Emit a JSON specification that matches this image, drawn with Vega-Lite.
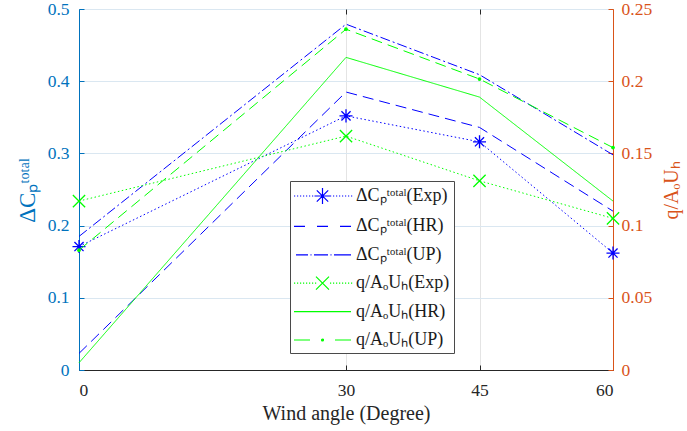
{
  "$schema": "https://vega.github.io/schema/vega-lite/v6.json",
  "width": 534,
  "height": 361,
  "autosize": {"type": "none"},
  "padding": {"left": 79, "top": 9, "right": 74, "bottom": 61},
  "background": "white",
  "config": {
    "font": "Liberation Serif",
    "view": {"stroke": "#262626", "strokeWidth": 1},
    "axis": {"labelFont": "Liberation Serif", "titleFont": "Liberation Serif", "titleFontWeight": "normal", "labelFontSize": 17.5, "tickSize": -5, "tickWidth": 1, "domainWidth": 1, "gridWidth": 1}
  },
  "data": {
    "values": [
      {"angle": 0, "value": 0.171, "quantity": "dcp", "series": "ΔCₚᵗᵒᵗᵃˡ(Exp)"},
      {"angle": 30, "value": 0.352, "quantity": "dcp", "series": "ΔCₚᵗᵒᵗᵃˡ(Exp)"},
      {"angle": 45, "value": 0.316, "quantity": "dcp", "series": "ΔCₚᵗᵒᵗᵃˡ(Exp)"},
      {"angle": 60, "value": 0.162, "quantity": "dcp", "series": "ΔCₚᵗᵒᵗᵃˡ(Exp)"},
      {"angle": 0, "value": 0.023, "quantity": "dcp", "series": "ΔCₚᵗᵒᵗᵃˡ(HR)"},
      {"angle": 30, "value": 0.385, "quantity": "dcp", "series": "ΔCₚᵗᵒᵗᵃˡ(HR)"},
      {"angle": 45, "value": 0.336, "quantity": "dcp", "series": "ΔCₚᵗᵒᵗᵃˡ(HR)"},
      {"angle": 60, "value": 0.22, "quantity": "dcp", "series": "ΔCₚᵗᵒᵗᵃˡ(HR)"},
      {"angle": 0, "value": 0.185, "quantity": "dcp", "series": "ΔCₚᵗᵒᵗᵃˡ(UP)"},
      {"angle": 30, "value": 0.479, "quantity": "dcp", "series": "ΔCₚᵗᵒᵗᵃˡ(UP)"},
      {"angle": 45, "value": 0.409, "quantity": "dcp", "series": "ΔCₚᵗᵒᵗᵃˡ(UP)"},
      {"angle": 60, "value": 0.298, "quantity": "dcp", "series": "ΔCₚᵗᵒᵗᵃˡ(UP)"},
      {"angle": 0, "value": 0.117, "quantity": "q", "series": "q/AₒUₕ(Exp)"},
      {"angle": 30, "value": 0.162, "quantity": "q", "series": "q/AₒUₕ(Exp)"},
      {"angle": 45, "value": 0.131, "quantity": "q", "series": "q/AₒUₕ(Exp)"},
      {"angle": 60, "value": 0.105, "quantity": "q", "series": "q/AₒUₕ(Exp)"},
      {"angle": 0, "value": 0.005, "quantity": "q", "series": "q/AₒUₕ(HR)"},
      {"angle": 30, "value": 0.2165, "quantity": "q", "series": "q/AₒUₕ(HR)"},
      {"angle": 45, "value": 0.189, "quantity": "q", "series": "q/AₒUₕ(HR)"},
      {"angle": 60, "value": 0.117, "quantity": "q", "series": "q/AₒUₕ(HR)"},
      {"angle": 0, "value": 0.083, "quantity": "q", "series": "q/AₒUₕ(UP)"},
      {"angle": 30, "value": 0.236, "quantity": "q", "series": "q/AₒUₕ(UP)"},
      {"angle": 45, "value": 0.2015, "quantity": "q", "series": "q/AₒUₕ(UP)"},
      {"angle": 60, "value": 0.154, "quantity": "q", "series": "q/AₒUₕ(UP)"}
    ]
  },
  "layer": [
    {
      "transform": [{"filter": "datum.quantity === 'dcp'"}],
      "encoding": {
        "x": {
          "field": "angle", "type": "quantitative",
          "scale": {"domain": [0, 60], "nice": false, "zero": false},
          "axis": {
            "orient": "bottom", "values": [0, 30, 45, 60], "title": "Wind angle (Degree)",
            "titleFontSize": 20, "titleColor": "#262626", "titleY": 33, "titleBaseline": "top",
            "labelColor": "#262626", "labelPadding": 16, "domainColor": "#262626", "tickColor": "#262626",
            "grid": true, "gridColor": "#e4e4e4"
          }
        },
        "y": {
          "field": "value", "type": "quantitative",
          "scale": {"domain": [0, 0.5], "nice": false},
          "axis": {
            "orient": "left", "values": [0, 0.1, 0.2, 0.3, 0.4, 0.5], "format": ".1~f",
            "title": "ΔCₚᵗᵒᵗᵃˡ", "titleFontSize": 23, "titleColor": "#0072BD",
            "titleX": -40, "titleY": 181, "titleAngle": -90, "titleBaseline": "bottom",
            "labelColor": "#0072BD", "labelPadding": 15, "domainColor": "#0072BD", "tickColor": "#0072BD",
            "grid": true, "gridColor": "#dae7f1"
          }
        }
      },
      "layer": [
        {
          "mark": {"type": "line", "strokeWidth": 1},
          "encoding": {
            "stroke": {
              "field": "series", "type": "nominal", "legend": null,
              "scale": {
                "domain": ["q/AₒUₕ(UP)", "q/AₒUₕ(HR)", "q/AₒUₕ(Exp)", "ΔCₚᵗᵒᵗᵃˡ(UP)", "ΔCₚᵗᵒᵗᵃˡ(HR)", "ΔCₚᵗᵒᵗᵃˡ(Exp)"],
                "range": ["#00FF00", "#00FF00", "#00FF00", "#0000FF", "#0000FF", "#0000FF"]
              }
            },
            "strokeDash": {
              "field": "series", "type": "nominal", "legend": null,
              "scale": {
                "domain": ["q/AₒUₕ(UP)", "q/AₒUₕ(HR)", "q/AₒUₕ(Exp)", "ΔCₚᵗᵒᵗᵃˡ(UP)", "ΔCₚᵗᵒᵗᵃˡ(HR)", "ΔCₚᵗᵒᵗᵃˡ(Exp)"],
                "range": [[11, 6], [1, 0], [1.5, 2.5], [10, 3, 2, 3], [11, 6], [1.5, 2.5]]
              }
            }
          }
        },
        {
          "transform": [{"filter": "datum.series === 'ΔCₚᵗᵒᵗᵃˡ(Exp)'"}],
          "mark": {"type": "point", "shape": "M0,-1V1M-1,0H1M-0.7,-0.7L0.7,0.7M-0.7,0.7L0.7,-0.7", "size": 170, "filled": false, "stroke": "#0000FF", "strokeWidth": 1.3, "opacity": 1}
        },
        {
          "mark": {"type": "point", "filled": false, "opacity": 0},
          "encoding": {
            "color": {
              "field": "series", "type": "nominal",
              "scale": {
                "domain": ["ΔCₚᵗᵒᵗᵃˡ(Exp)", "ΔCₚᵗᵒᵗᵃˡ(HR)", "ΔCₚᵗᵒᵗᵃˡ(UP)", "q/AₒUₕ(Exp)", "q/AₒUₕ(HR)", "q/AₒUₕ(UP)"],
                "range": ["#0000FF", "#0000FF", "#0000FF", "#00FF00", "#00FF00", "#00FF00"]
              },
              "legend": {
                "orient": "none", "legendX": 211, "legendY": 172, "title": null,
                "fillColor": "white", "strokeColor": "#4a4a4a", "padding": 4,
                "labelFont": "Liberation Serif", "labelFontSize": 18, "labelColor": "#1a1a1a", "labelLimit": 200,
                "symbolSize": 400, "symbolStrokeWidth": 1.2, "symbolOpacity": 1,
                "rowPadding": 8.4, "labelOffset": 40
              }
            },
            "shape": {
              "field": "series", "type": "nominal",
              "scale": {
                "domain": ["ΔCₚᵗᵒᵗᵃˡ(Exp)", "ΔCₚᵗᵒᵗᵃˡ(HR)", "ΔCₚᵗᵒᵗᵃˡ(UP)", "q/AₒUₕ(Exp)", "q/AₒUₕ(HR)", "q/AₒUₕ(UP)"],
                "range": [
                  "M-1.1,0h0.12M-0.8,0h0.12M-0.5,0h0.12M-0.2,0h0.12M0.1,0h0.12M0.4,0h0.12M0.7,0h0.12M1.0,0h0.12M2.5,0h0.12M2.8,0h0.12M3.1,0h0.12M3.4,0h0.12M3.7,0h0.12M4.0,0h0.12M4.3,0h0.12M4.6,0h0.12M1.75,-0.8V0.8M0.95,0H2.55M1.18,-0.57L2.32,0.57M1.18,0.57L2.32,-0.57",
                  "M-1.1,0H0M1.2,0H2.3M3.5,0H4.6",
                  "M-0.9,0H0.3M0.55,0H0.65M0.9,0H2.3M2.55,0H2.65M2.9,0H4.6",
                  "M-1.1,0h0.12M-0.8,0h0.12M-0.5,0h0.12M-0.2,0h0.12M0.1,0h0.12M0.4,0h0.12M0.7,0h0.12M1.0,0h0.12M2.5,0h0.12M2.8,0h0.12M3.1,0h0.12M3.4,0h0.12M3.7,0h0.12M4.0,0h0.12M4.3,0h0.12M4.6,0h0.12M1.1,-0.65L2.4,0.65M1.1,0.65L2.4,-0.65",
                  "M-1.1,0H4.6",
                  "M-1.1,0H0.5M3.0,0H4.6M1.65,0a0.1,0.1 0 1,0 0.2,0a0.1,0.1 0 1,0 -0.2,0M1.75,-0.1V0.1M1.65,0H1.85"
                ]
              }
            }
          }
        }
      ]
    },
    {
      "transform": [{"filter": "datum.quantity === 'q'"}],
      "encoding": {
        "x": {
          "field": "angle", "type": "quantitative",
          "scale": {"domain": [0, 60], "nice": false, "zero": false},
          "axis": {
            "orient": "top", "values": [30, 45], "labels": false, "title": null,
            "domain": false, "grid": false, "tickColor": "#262626"
          }
        },
        "y": {
          "field": "value", "type": "quantitative",
          "scale": {"domain": [0, 0.25], "nice": false},
          "axis": {
            "orient": "right", "values": [0, 0.05, 0.1, 0.15, 0.2, 0.25], "format": ".2~f",
            "title": "q/AₒUₕ", "titleFontSize": 20, "titleColor": "#D95319",
            "titleX": 68, "titleY": 181, "titleAngle": -90, "titleBaseline": "bottom",
            "labelColor": "#D95319", "labelPadding": 13, "domainColor": "#D95319", "tickColor": "#D95319",
            "grid": false
          }
        }
      },
      "layer": [
        {
          "mark": {"type": "line", "strokeWidth": 1},
          "encoding": {
            "stroke": {
              "field": "series", "type": "nominal", "legend": null,
              "scale": {
                "domain": ["q/AₒUₕ(UP)", "q/AₒUₕ(HR)", "q/AₒUₕ(Exp)", "ΔCₚᵗᵒᵗᵃˡ(UP)", "ΔCₚᵗᵒᵗᵃˡ(HR)", "ΔCₚᵗᵒᵗᵃˡ(Exp)"],
                "range": ["#00FF00", "#00FF00", "#00FF00", "#0000FF", "#0000FF", "#0000FF"]
              }
            },
            "strokeDash": {
              "field": "series", "type": "nominal", "legend": null,
              "scale": {
                "domain": ["q/AₒUₕ(UP)", "q/AₒUₕ(HR)", "q/AₒUₕ(Exp)", "ΔCₚᵗᵒᵗᵃˡ(UP)", "ΔCₚᵗᵒᵗᵃˡ(HR)", "ΔCₚᵗᵒᵗᵃˡ(Exp)"],
                "range": [[11, 6], [1, 0], [1.5, 2.5], [10, 3, 2, 3], [11, 6], [1.5, 2.5]]
              }
            }
          }
        },
        {
          "transform": [{"filter": "datum.series === 'q/AₒUₕ(Exp)'"}],
          "mark": {"type": "point", "shape": "M-1,-1L1,1M-1,1L1,-1", "size": 150, "filled": false, "stroke": "#00FF00", "strokeWidth": 1.3, "opacity": 1}
        },
        {
          "transform": [{"filter": "datum.series === 'q/AₒUₕ(UP)'"}],
          "mark": {"type": "point", "shape": "circle", "size": 14, "filled": true, "fill": "#00FF00", "opacity": 1}
        }
      ]
    }
  ],
  "resolve": {"scale": {"y": "independent"}, "axis": {"x": "independent"}}
}
